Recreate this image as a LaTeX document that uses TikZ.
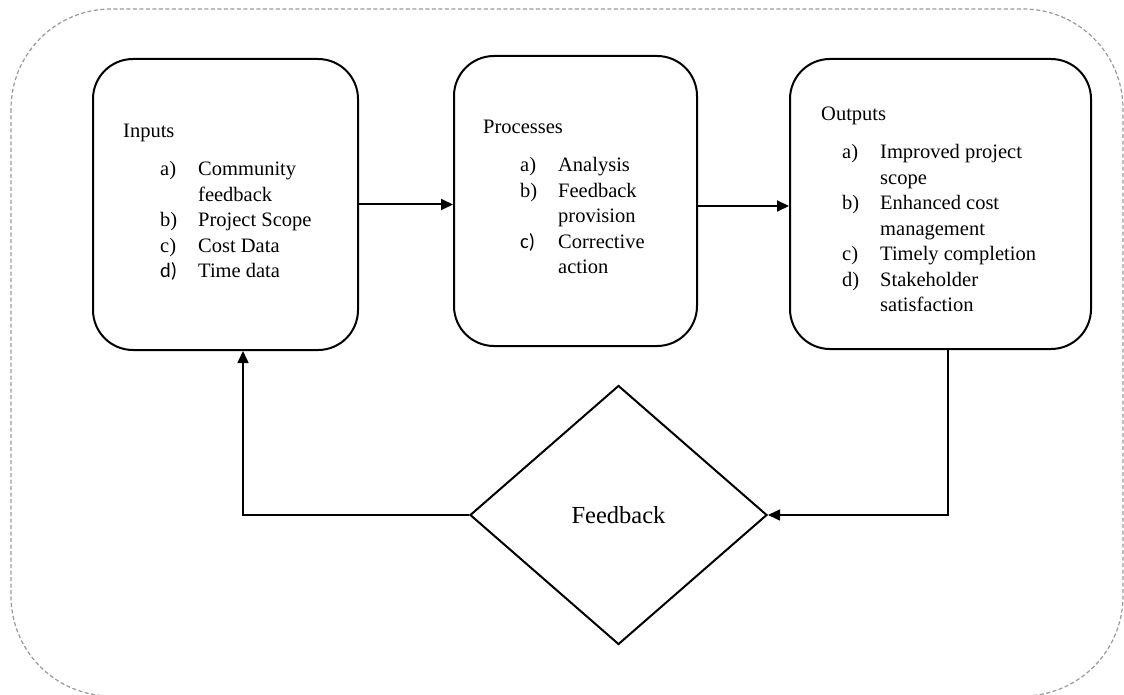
\documentclass[tikz,border=0pt]{standalone}
\usepackage{fontspec}
\setmainfont{Liberation Serif}
\newfontfamily\lblsans{Carlito}
\usetikzlibrary{arrows.meta, shapes.geometric}

\begin{document}
\begin{tikzpicture}[
  x=1pt, y=-1pt,
  frame/.style={draw=gray!80, line width=1.2pt, dash pattern=on 4pt off 2.5pt,
                rounded corners=100pt},
  stage/.style={rectangle, draw, line width=2pt, rounded corners=40pt,
                inner sep=0pt},
  listtxt/.style={anchor=base west, inner sep=0pt,
                  font=\fontsize{20.5}{25.5}\selectfont},
  decide/.style={diamond, draw, line width=2pt, inner sep=0pt,
                 minimum width=297pt, minimum height=259pt,
                 font=\fontsize{24.5}{29}\selectfont},
  flow/.style={line width=2pt, -{Triangle[length=12pt, width=11pt]}},
  loop/.style={line width=1.5pt, -{Triangle[length=12pt, width=11pt]}},
]
\useasboundingbox (0,0) rectangle (1124,695);
% ---- dashed outer frame
\draw[frame] (11,9) rectangle (1123,696);
% ---- the three stages
\node[stage, minimum width=265pt, minimum height=291pt] (inputs) at (225.5,204.5) {};
\node[stage, minimum width=243pt, minimum height=290pt] (processes) at (575.5,201) {};
\node[stage, minimum width=301pt, minimum height=290pt] (outputs) at (940.5,204) {};
\node[listtxt] (inputs-txt) at (123,138) {\begin{tabular}[t]{@{\hspace{37pt}}p{38pt}@{}l@{}}
  \multicolumn{2}{@{}l@{}}{Inputs}\\[12.5pt]
  a) & Community\\
     & feedback\\
  b) & Project Scope\\
  c) & Cost Data\\
  {\lblsans d)} & Time data
\end{tabular}};
\node[listtxt] (processes-txt) at (483,134) {\begin{tabular}[t]{@{\hspace{37pt}}p{38pt}@{}l@{}}
  \multicolumn{2}{@{}l@{}}{Processes}\\[12.5pt]
  a) & Analysis\\
  b) & Feedback\\
     & provision\\
  {\lblsans c)} & Corrective\\
     & action
\end{tabular}};
\node[listtxt] (outputs-txt) at (821,121) {\begin{tabular}[t]{@{\hspace{21pt}}p{38pt}@{}l@{}}
  \multicolumn{2}{@{}l@{}}{Outputs}\\[12.5pt]
  a) & Improved project\\
     & scope\\
  b) & Enhanced cost\\
     & management\\
  c) & Timely completion\\
  d) & Stakeholder\\
     & satisfaction
\end{tabular}};
\draw[flow] (inputs.east) -- (inputs.east -| processes.west);
\draw[flow] ([yshift=-5pt]processes.east) -- ([yshift=-5pt]processes.east -| outputs.west);
% ---- feedback loop back to the inputs
\node[decide] (feedback) at (618.5,515) {Feedback};
\coordinate (outtap) at (948,515);
\coordinate (inturn) at (243,515);
\draw[loop] (outputs.south -| outtap) -- (outtap) -- (feedback.east);
\draw[loop] (feedback.west) -- (inturn) -- (inturn |- inputs.south);
\end{tikzpicture}
\end{document}
